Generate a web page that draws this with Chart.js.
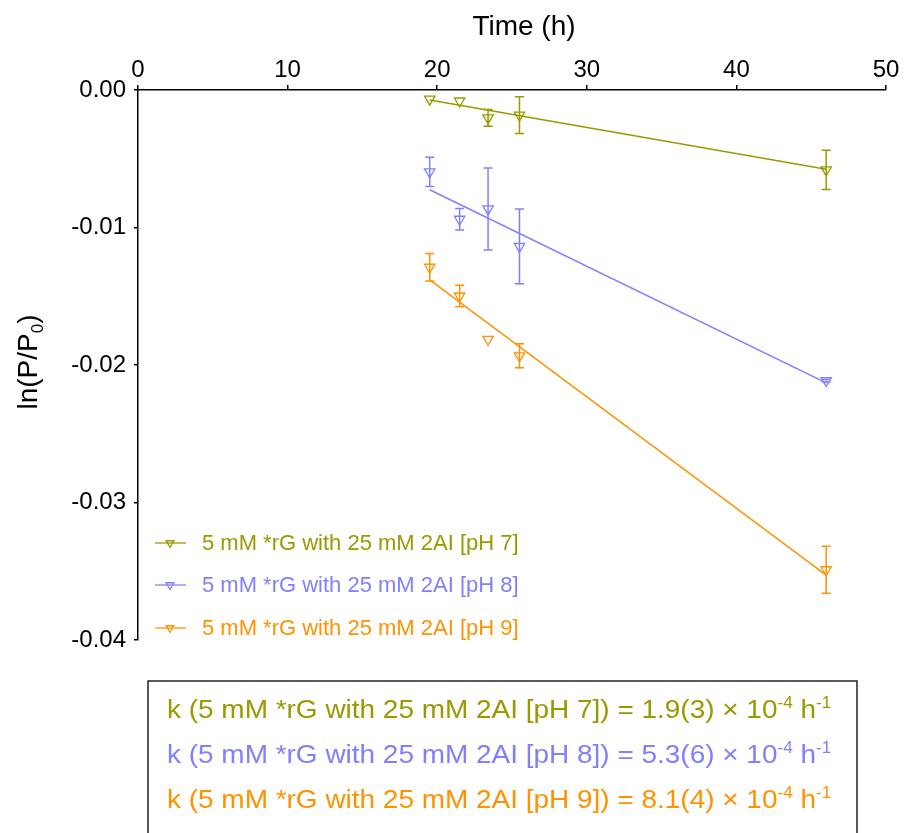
<!DOCTYPE html>
<html>
<head>
<meta charset="utf-8">
<script src="https://cdn.jsdelivr.net/npm/chart.js@4.4.0/dist/chart.umd.min.js"></script>
<style>
  html, body { margin: 0; padding: 0; background: #fff; }
  #wrap { position: relative; width: 908px; height: 833px; overflow: hidden; }
</style>
</head>
<body>
<div id="wrap"><canvas id="rateChart" width="908" height="833"></canvas></div>
<script>
// sampling times (h)
const times = [19.5, 21.5, 23.4, 25.5, 46.0];

const seriesNames = [
    '5 mM *rG with 25 mM 2AI [pH 7]',
    '5 mM *rG with 25 mM 2AI [pH 8]',
    '5 mM *rG with 25 mM 2AI [pH 9]'
];
const seriesColors = ['#999900', '#8080ff', '#ff9200'];

// ln(P/P0) and standard errors
const ph7Values = [-0.00066, -0.0008, -0.00203, -0.00183, -0.00581];
const ph7Errors = [0, 0, 0.00061, 0.00134, 0.00143];
const ph8Values = [-0.00595, -0.0094, -0.00865, -0.01137, -0.02113];
const ph8Errors = [0.00106, 0.00078, 0.00298, 0.00272, 0.0001];
const ph9Values = [-0.01289, -0.01498, -0.01813, -0.01933, -0.03489];
const ph9Errors = [0.001, 0.00078, 0, 0.00087, 0.00171];

// linear fits: ln(P/P0) = b - k*t
const rateK = [1.9e-4, 5.3e-4, 8.1e-4];
const rateKText = ['1.9(3)', '5.3(6)', '8.1(4)'];
const fitIntercepts = [0.00297, 0.00308, 0.00198];

const xTicks = [0, 10, 20, 30, 40, 50];
const yTicks = [0, -0.01, -0.02, -0.03, -0.04];

const allValues = [ph7Values, ph8Values, ph9Values];
const allErrors = [ph7Errors, ph8Errors, ph9Errors];

const datasets = [];
allValues.forEach((vals, i) => {
    const t0 = times[0], t1 = times[times.length - 1];
    datasets.push({
        type: 'line',
        label: seriesNames[i] + ' fit',
        data: [
            { x: t0, y: fitIntercepts[i] - rateK[i] * t0 },
            { x: t1, y: fitIntercepts[i] - rateK[i] * t1 }
        ],
        borderColor: seriesColors[i],
        borderWidth: 1.5,
        pointRadius: 0,
        fill: false
    });
    datasets.push({
        type: 'scatter',
        label: seriesNames[i],
        data: vals.map((v, j) => ({ x: times[j], y: v })),
        errors: allErrors[i],
        borderColor: seriesColors[i],
        backgroundColor: 'rgba(0,0,0,0)',
        pointStyle: 'triangle',
        rotation: 180,
        pointRadius: 6,
        borderWidth: 1.3
    });
});

function drawTriangle(ctx, x, y, r) {
    ctx.beginPath();
    ctx.moveTo(x, y + r);
    ctx.lineTo(x - r * 0.866, y - r * 0.5);
    ctx.lineTo(x + r * 0.866, y - r * 0.5);
    ctx.closePath();
    ctx.stroke();
}

// writes a run of [text, 'sup'|'sub'|''] pieces starting at x
function drawRich(ctx, x, y, parts, size) {
    parts.forEach(([txt, kind]) => {
        let s = size, dy = 0;
        if (kind === 'sup') { s = Math.round(size * 0.6); dy = -size * 0.38; }
        if (kind === 'sub') { s = Math.round(size * 0.6); dy = size * 0.2; }
        ctx.font = s + 'px Arial, "Liberation Sans", sans-serif';
        ctx.fillText(txt, x, y + dy);
        x += ctx.measureText(txt).width;
    });
    return x;
}

const extras = {
    id: 'extras',
    beforeDatasetsDraw(chart) {
        const ctx = chart.ctx;
        const xs = chart.scales.x, ys = chart.scales.y;
        ctx.save();
        ctx.lineWidth = 1.5;
        chart.data.datasets.forEach(ds => {
            if (!ds.errors) return;
            ctx.strokeStyle = ds.borderColor;
            ds.data.forEach((p, j) => {
                const e = ds.errors[j];
                if (!e) return;
                const px = xs.getPixelForValue(p.x);
                const top = ys.getPixelForValue(p.y + e);
                const bot = ys.getPixelForValue(p.y - e);
                ctx.beginPath();
                ctx.moveTo(px, top); ctx.lineTo(px, bot);
                ctx.moveTo(px - 4.5, top); ctx.lineTo(px + 4.5, top);
                ctx.moveTo(px - 4.5, bot); ctx.lineTo(px + 4.5, bot);
                ctx.stroke();
            });
        });
        ctx.restore();
    },
    afterDraw(chart) {
        const ctx = chart.ctx;
        ctx.save();
        ctx.fillStyle = '#000';
        ctx.textBaseline = 'alphabetic';

        // axis titles
        ctx.font = '28px Arial, "Liberation Sans", sans-serif';
        ctx.textAlign = 'center';
        ctx.fillText('Time (h)', 524, 35);

        ctx.save();
        ctx.translate(37, 362);
        ctx.rotate(-Math.PI / 2);
        ctx.textAlign = 'left';
        const yParts = [['ln(P/P', ''], ['0', 'sub'], [')', '']];
        let w = 0;
        yParts.forEach(([t, k]) => {
            ctx.font = (k ? 17 : 28) + 'px Arial, "Liberation Sans", sans-serif';
            w += ctx.measureText(t).width;
        });
        drawRich(ctx, -w / 2, 0, yParts, 28);
        ctx.restore();

        // legend inside the plot
        ctx.textAlign = 'left';
        ctx.textBaseline = 'middle';
        const legendY = [543, 585, 628];
        seriesNames.forEach((name, i) => {
            const y = legendY[i];
            ctx.strokeStyle = seriesColors[i];
            ctx.lineWidth = 1.3;
            ctx.beginPath();
            ctx.moveTo(155, y); ctx.lineTo(186, y);
            ctx.stroke();
            drawTriangle(ctx, 170, y, 4.5);
            ctx.fillStyle = seriesColors[i];
            ctx.font = '22px Arial, "Liberation Sans", sans-serif';
            ctx.fillText(name, 202, y + 1);
        });

        // rate constant box
        ctx.strokeStyle = '#222';
        ctx.lineWidth = 1.5;
        ctx.strokeRect(148, 681, 709, 220);
        ctx.textBaseline = 'alphabetic';
        const boxY = [718, 763, 808];
        seriesNames.forEach((name, i) => {
            ctx.save();
            ctx.translate(167, boxY[i]);
            ctx.scale(1.075, 1);
            ctx.fillStyle = seriesColors[i];
            drawRich(ctx, 0, 0, [
                ['k (' + name + ') = ' + rateKText[i] + ' \u00d7 10', ''],
                ['-4', 'sup'],
                [' h', ''],
                ['-1', 'sup']
            ], 26);
            ctx.restore();
        });
        ctx.restore();
    }
};

new Chart(document.getElementById('rateChart'), {
    data: { datasets: datasets },
    options: {
        responsive: false,
        animation: false,
        devicePixelRatio: 1,
        layout: { padding: { left: 0, top: 0, right: 22, bottom: 193 } },
        plugins: {
            legend: { display: false },
            tooltip: { enabled: false }
        },
        scales: {
            x: {
                type: 'linear',
                position: 'top',
                min: 0,
                max: 50,
                afterBuildTicks: s => { s.ticks = xTicks.map(v => ({ value: v })); },
                afterFit: s => { s.height = 90; },
                ticks: {
                    color: '#000',
                    padding: 0,
                    maxRotation: 0,
                    font: { family: 'Arial, "Liberation Sans", sans-serif', size: 24 }
                },
                grid: { drawOnChartArea: false, drawTicks: true, tickLength: 5, color: '#000', lineWidth: 1.5 },
                border: { color: '#000', width: 1.5 }
            },
            y: {
                type: 'linear',
                position: 'left',
                min: -0.04,
                max: 0,
                afterBuildTicks: s => { s.ticks = yTicks.map(v => ({ value: v })); },
                afterFit: s => { s.width = 138; },
                ticks: {
                    color: '#000',
                    padding: 8,
                    callback: v => (Math.abs(v) < 1e-9 ? 0 : v).toFixed(2),
                    font: { family: 'Arial, "Liberation Sans", sans-serif', size: 24 }
                },
                grid: { drawOnChartArea: false, drawTicks: true, tickLength: 4, color: '#000', lineWidth: 1.5 },
                border: { color: '#000', width: 1.5 }
            }
        }
    },
    plugins: [extras]
});
</script>
</body>
</html>
